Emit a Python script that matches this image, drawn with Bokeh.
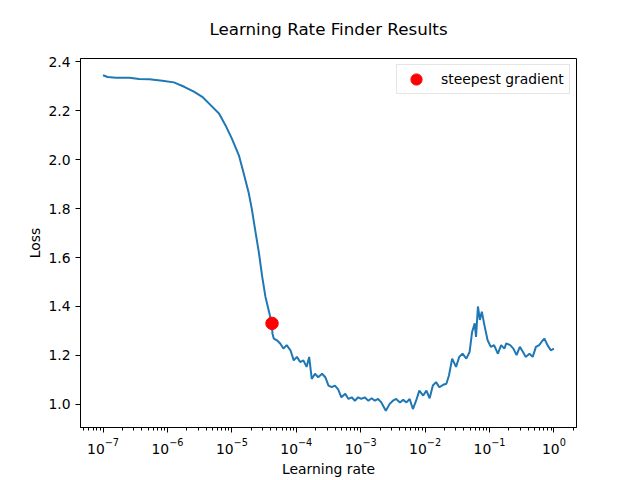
from bokeh.plotting import figure
from bokeh.models import Range1d, FixedTicker, LogTickFormatter, PrintfTickFormatter
from bokeh.embed import file_html
from bokeh.resources import INLINE

title_text = "Learning Rate Finder Results"
x_label = "Learning rate"
y_label = "Loss"
legend_text = "steepest gradient"

# log10 of learning rate, and loss values
log10_lr = [
    -7.00, -6.93, -6.80, -6.59, -6.44, -6.28, -6.08, -5.90, -5.74, -5.59,
    -5.46, -5.33, -5.20, -5.10, -5.00, -4.89, -4.82, -4.74, -4.69, -4.64,
    -4.58, -4.53, -4.48, -4.43, -4.38, -4.37, -4.35, -4.30, -4.25, -4.20,
    -4.15, -4.09, -4.04, -3.99, -3.94, -3.89, -3.84, -3.80, -3.76, -3.71,
    -3.66, -3.60, -3.55, -3.50, -3.45, -3.40, -3.35, -3.30, -3.24, -3.19,
    -3.14, -3.09, -3.04, -2.99, -2.94, -2.88, -2.83, -2.78, -2.73, -2.68,
    -2.61, -2.55, -2.50, -2.45, -2.39, -2.34, -2.29, -2.24, -2.19, -2.14,
    -2.09, -2.03, -1.98, -1.93, -1.88, -1.83, -1.78, -1.72, -1.67, -1.63,
    -1.58, -1.52, -1.47, -1.42, -1.36, -1.31, -1.27, -1.23, -1.21, -1.18,
    -1.15, -1.12, -1.08, -1.03, -0.98, -0.93, -0.87, -0.82, -0.77, -0.74,
    -0.68, -0.63, -0.58, -0.53, -0.48, -0.44, -0.38, -0.33, -0.28, -0.23,
    -0.19, -0.15, -0.10, -0.05, 0.00,
]
loss = [
    2.345, 2.338, 2.335, 2.335, 2.330, 2.329, 2.323, 2.316, 2.298, 2.278,
    2.257, 2.223, 2.189, 2.141, 2.086, 2.017, 1.948, 1.866, 1.798, 1.715,
    1.619, 1.523, 1.441, 1.386, 1.331, 1.290, 1.269, 1.262, 1.249, 1.228,
    1.242, 1.221, 1.180, 1.194, 1.173, 1.180, 1.153, 1.194, 1.104, 1.125,
    1.111, 1.125, 1.111, 1.077, 1.070, 1.077, 1.061, 1.029, 1.043, 1.022,
    1.029, 1.015, 1.029, 1.022, 1.029, 1.015, 1.025, 1.015, 1.022, 1.008,
    0.974, 1.002, 1.015, 1.022, 1.008, 1.019, 1.008, 1.022, 0.981, 1.015,
    1.056, 1.036, 1.056, 1.025, 1.077, 1.091, 1.070, 1.080, 1.084, 1.118,
    1.187, 1.153, 1.194, 1.207, 1.187, 1.214, 1.297, 1.331, 1.276, 1.400,
    1.345, 1.379, 1.324, 1.262, 1.235, 1.242, 1.207, 1.242, 1.228, 1.249,
    1.242, 1.228, 1.201, 1.235, 1.214, 1.194, 1.207, 1.194, 1.235, 1.242,
    1.256, 1.269, 1.242, 1.221, 1.228,
]
steep_lr = [4.2e-5]
steep_loss = [1.331]

x_ticks = [1e-7, 1e-6, 1e-5, 1e-4, 1e-3, 1e-2, 1e-1, 1e0]
y_ticks = [1.0, 1.2, 1.4, 1.6, 1.8, 2.0, 2.2, 2.4]

lr = [10 ** e for e in log10_lr]

FONT = "DejaVu Sans"
FS = "13.9px"

# matplotlib-style 5% margins
lo, hi = min(log10_lr), max(log10_lr)
span = hi - lo
x_range = Range1d(10 ** (lo - 0.05 * span), 10 ** (hi + 0.05 * span))
ymin, ymax = min(loss), max(loss)
yspan = ymax - ymin
y_range = Range1d(ymin - 0.05 * yspan, ymax + 0.05 * yspan)

p = figure(width=640, height=480, x_axis_type="log", x_range=x_range, y_range=y_range,
           output_backend="svg", toolbar_location=None, title=title_text,
           min_border_left=80, min_border_right=64, min_border_top=58, min_border_bottom=53)

p.title.align = "center"
p.title.vertical_align = "top"
p.title.text_font = FONT
p.title.text_font_size = "16.7px"
p.title.text_font_style = "normal"
p.title.text_color = "black"
p.title.offset = 0
p.title.standoff = 35

p.background_fill_color = "white"
p.border_fill_color = "white"
p.outline_line_color = "black"
p.outline_line_width = 1
p.xgrid.visible = False
p.ygrid.visible = False

minor = []
for d in range(-8, 1):
    for m in range(2, 10):
        minor.append(m * 10.0 ** d)

p.xaxis.ticker = FixedTicker(ticks=x_ticks, minor_ticks=minor)
p.xaxis.formatter = LogTickFormatter()
p.yaxis.ticker = FixedTicker(ticks=y_ticks, minor_ticks=[])
p.yaxis.formatter = PrintfTickFormatter(format="%.1f")

for ax in (p.xaxis[0], p.yaxis[0]):
    ax.axis_line_color = "black"
    ax.major_tick_line_color = "black"
    ax.minor_tick_line_color = "black"
    ax.major_tick_out = 5
    ax.major_tick_in = 0
    ax.minor_tick_out = 3
    ax.minor_tick_in = 0
    ax.major_label_text_font = FONT
    ax.major_label_text_font_size = FS
    ax.major_label_text_color = "black"
    ax.axis_label_text_font = FONT
    ax.axis_label_text_font_size = FS
    ax.axis_label_text_font_style = "normal"
    ax.axis_label_text_color = "black"
    ax.major_label_standoff = 5

p.xaxis.axis_label = x_label
p.yaxis.axis_label = y_label
p.xaxis.axis_label_standoff = 4
p.yaxis.axis_label_standoff = 2

p.line(lr, loss, line_color="#1f77b4", line_width=2)
p.scatter(steep_lr, steep_loss, size=12.5, color="red", legend_label=legend_text)

lg = p.legend[0]
lg.location = "top_right"
lg.margin = 6
lg.padding = 0
lg.spacing = 0
lg.glyph_width = 38
lg.glyph_height = 28
lg.label_height = 28
lg.label_width = 128
lg.label_standoff = 6
lg.label_text_font = FONT
lg.label_text_font_size = FS
lg.label_text_color = "black"
lg.border_line_color = "#cccccc"
lg.background_fill_alpha = 0.8

open("out.html", "w").write(file_html(p, INLINE))
